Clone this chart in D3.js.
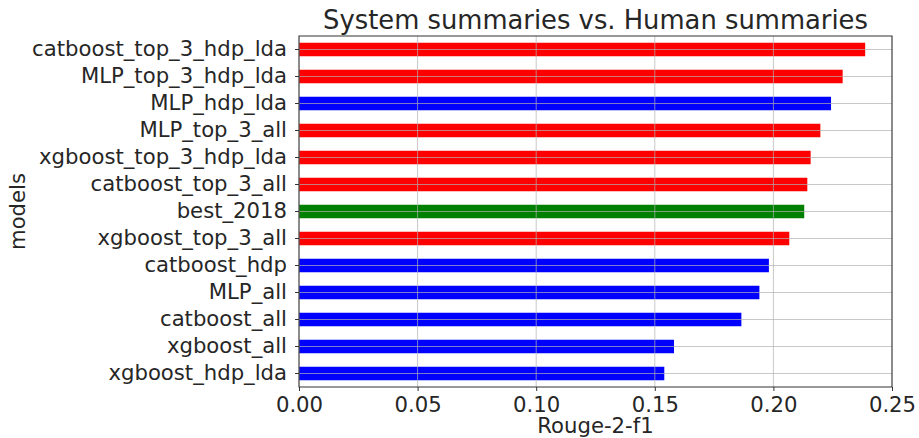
<!DOCTYPE html>
<html>
<head>
<meta charset="utf-8">
<script src="https://cdn.jsdelivr.net/npm/d3@7"></script>
<style>
  body { margin: 0; background: #fff; }
  text { font-family: "DejaVu Sans", sans-serif; fill: #262626; }
</style>
</head>
<body>
<div id="chart"></div>
<script>
// models, top to bottom
var models = ['catboost_top_3_hdp_lda', 'MLP_top_3_hdp_lda', 'MLP_hdp_lda', 'MLP_top_3_all',
  'xgboost_top_3_hdp_lda', 'catboost_top_3_all', 'best_2018', 'xgboost_top_3_all',
  'catboost_hdp', 'MLP_all', 'catboost_all', 'xgboost_all', 'xgboost_hdp_lda']
var scores = [0.2387, 0.2292, 0.2243, 0.2198, 0.2157, 0.2143, 0.2130, 0.2067,
  0.1981, 0.1941, 0.1865, 0.1581, 0.1540]
var groups = ['top3', 'top3', 'base', 'top3', 'top3', 'top3', 'ref', 'top3',
  'base', 'base', 'base', 'base', 'base']
var xTicks = [0, 0.05, 0.10, 0.15, 0.20, 0.25]

var chart_width = 919
var chart_height = 438
var m_left = 299, m_right = 892, m_top = 36, m_bottom = 387

var colors = { top3: '#ff0000', base: '#0000ff', ref: '#008000' }

var svg = d3.select('#chart')
    .append('svg')
    .attr('width', chart_width)
    .attr('height', chart_height)

var x = d3.scaleLinear().domain([0, 0.25]).range([m_left, m_right])
var y = d3.scaleBand().domain(models).range([m_top, m_bottom])
    .paddingInner(0.5).paddingOuter(0.25)

//bars
svg.selectAll('rect.bar')
    .data(models)
    .enter()
    .append('rect')
    .attr('class', 'bar')
    .attr('x', x(0))
    .attr('y', function(d){ return y(d) })
    .attr('width', function(d, i){ return x(scores[i]) - x(0) })
    .attr('height', y.bandwidth())
    .style('fill', function(d, i){ return colors[groups[i]] })

//grid on top of bars
var grid = svg.append('g').attr('stroke', '#b0b0b0').attr('stroke-opacity', 0.7).attr('stroke-width', 1)
grid.selectAll('line.gx')
    .data(xTicks)
    .enter()
    .append('line')
    .attr('class', 'gx')
    .attr('x1', function(d){ return x(d) }).attr('x2', function(d){ return x(d) })
    .attr('y1', m_top).attr('y2', m_bottom)
grid.selectAll('line.gy')
    .data(models)
    .enter()
    .append('line')
    .attr('class', 'gy')
    .attr('x1', m_left).attr('x2', m_right)
    .attr('y1', function(d){ return y(d) + y.bandwidth() / 2 })
    .attr('y2', function(d){ return y(d) + y.bandwidth() / 2 })

//axes
var xAxis = svg.append('g')
    .attr('transform', 'translate(0,' + m_bottom + ')')
    .call(d3.axisBottom(x).tickValues(xTicks).tickFormat(d3.format('.2f')).tickSizeOuter(0).tickSize(4).tickPadding(4))
var yAxis = svg.append('g')
    .attr('transform', 'translate(' + m_left + ',0)')
    .call(d3.axisLeft(y).tickSizeOuter(0).tickSize(4).tickPadding(8))

svg.selectAll('.domain').remove()
svg.selectAll('.tick line').attr('stroke', '#333')
svg.selectAll('.tick text').attr('font-size', 21.2).attr('fill', '#262626')
xAxis.selectAll('.tick text').attr('dy', '0.8em')

//frame
svg.append('rect')
    .attr('x', m_left).attr('y', m_top)
    .attr('width', m_right - m_left).attr('height', m_bottom - m_top)
    .attr('fill', 'none').attr('stroke', '#333').attr('stroke-width', 1)

//labels
svg.append('text')
    .text('System summaries vs. Human summaries')
    .attr('x', (m_left + m_right) / 2).attr('y', 29)
    .attr('text-anchor', 'middle').attr('font-size', 25.8)
svg.append('text')
    .text('Rouge-2-f1')
    .attr('x', (m_left + m_right) / 2).attr('y', 433)
    .attr('text-anchor', 'middle').attr('font-size', 21.2)
svg.append('text')
    .text('models')
    .attr('transform', 'translate(25,' + (m_top + m_bottom) / 2 + ') rotate(-90)')
    .attr('text-anchor', 'middle').attr('font-size', 21.2)
</script>
</body>
</html>
